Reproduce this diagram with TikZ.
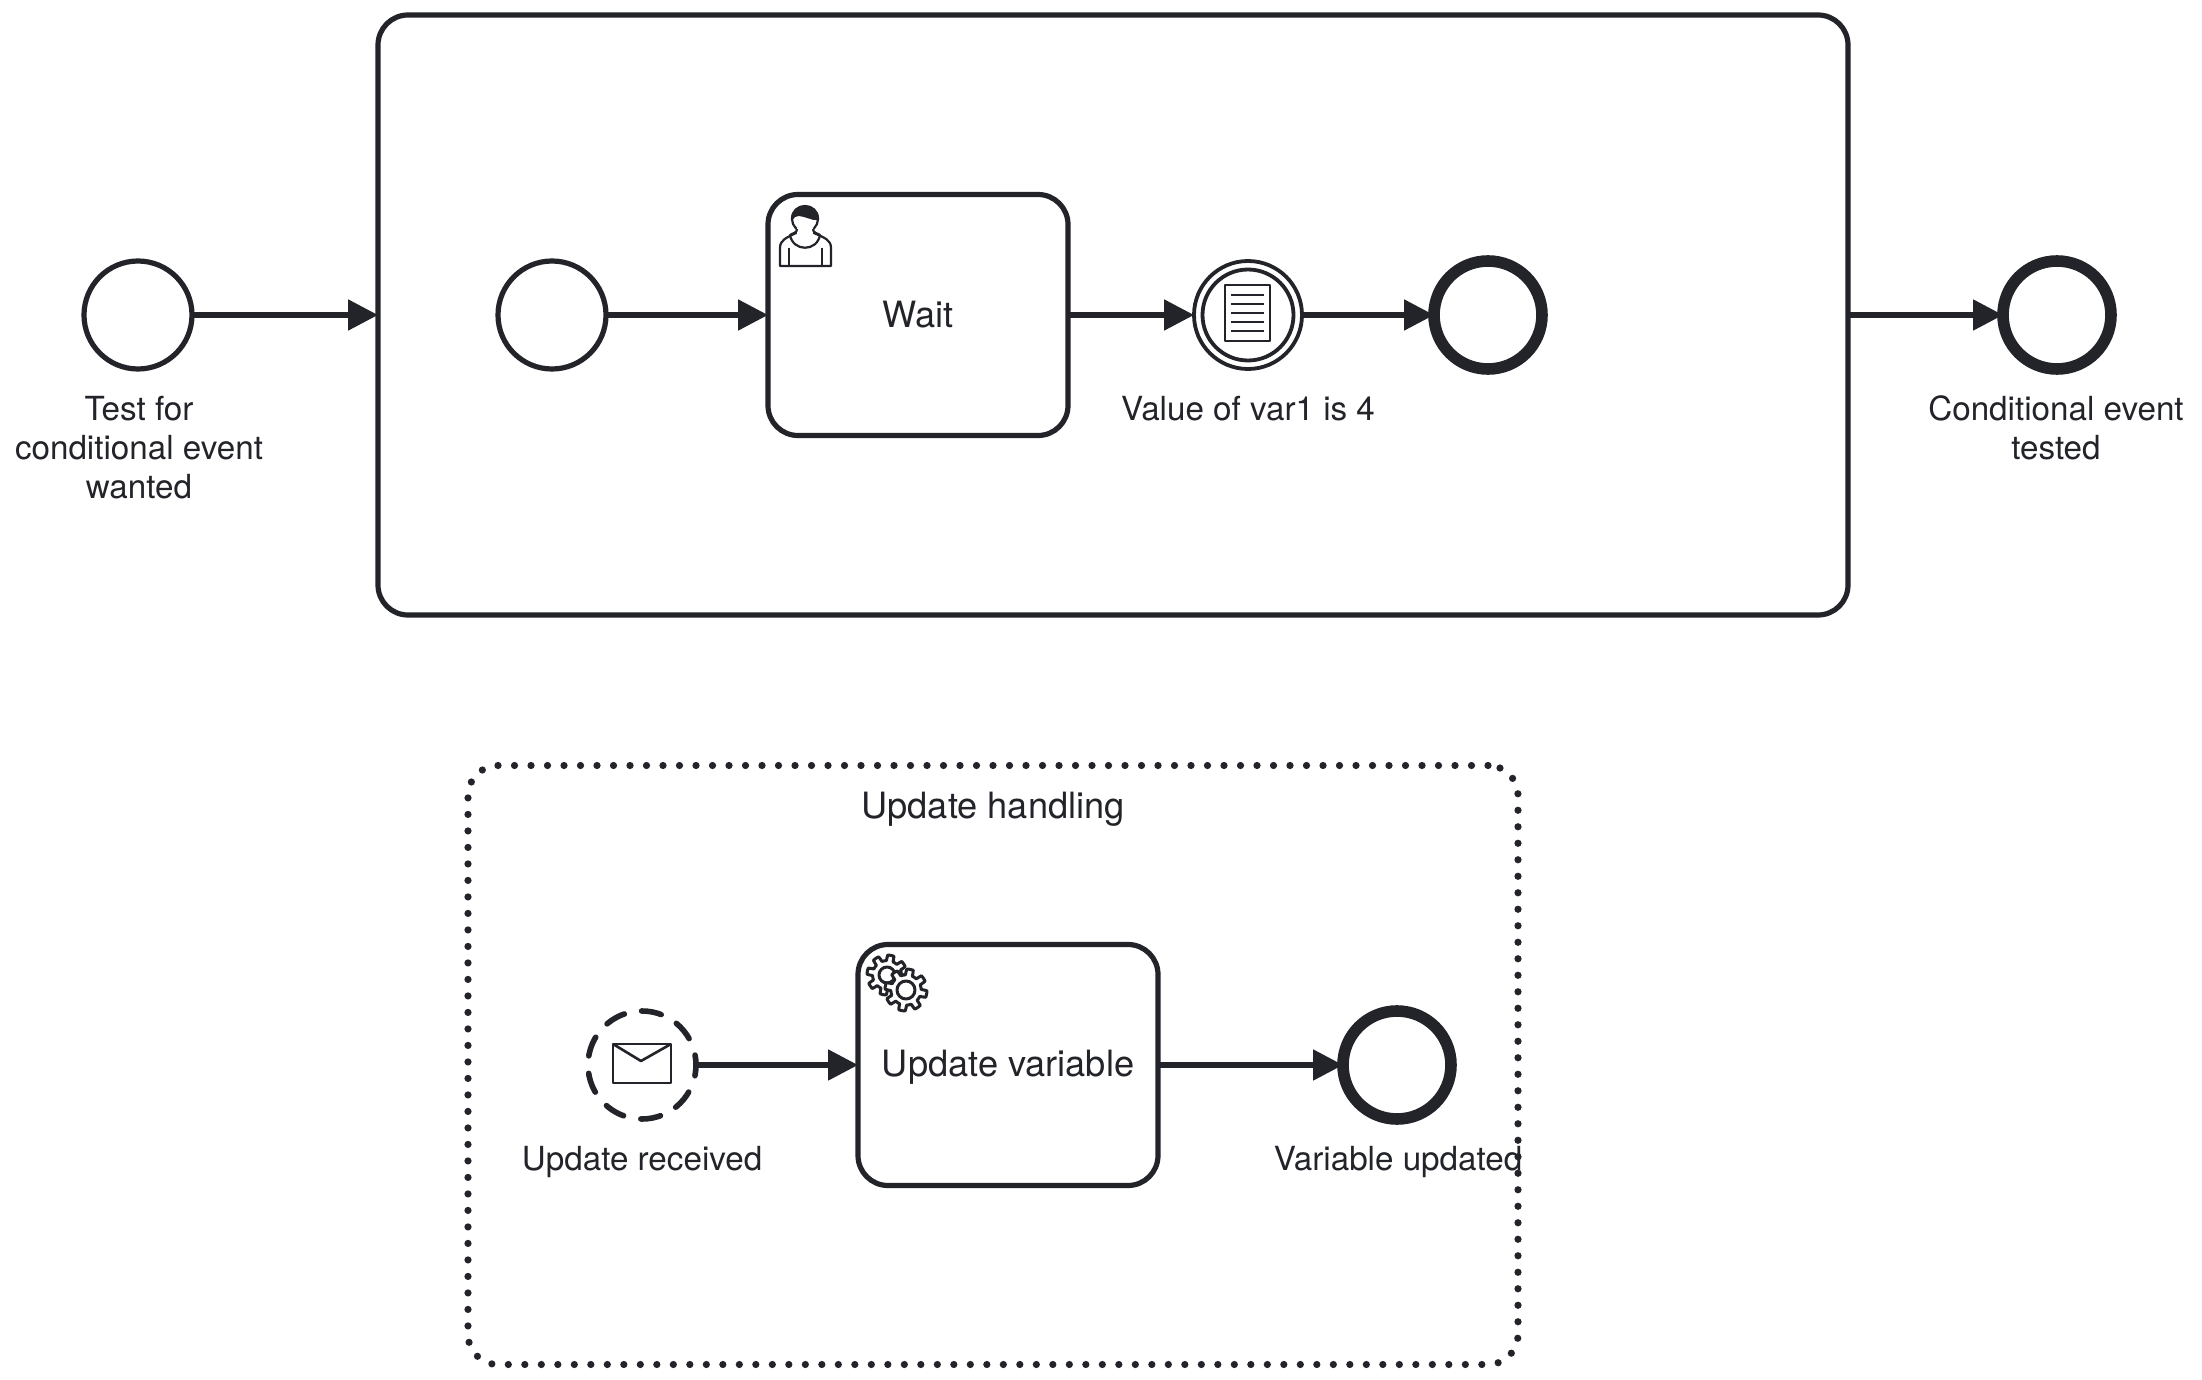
\documentclass[tikz,border=0pt]{standalone}
\usepackage{fontspec}
\setmainfont{TeX Gyre Heros}
\usetikzlibrary{arrows.meta}
\definecolor{ink}{HTML}{22242A}
\tikzset{
  every node/.style={outer sep=0pt},
  ink line/.style={draw=ink,line width=2.6pt},
  flow/.style={draw=ink,line width=2.6pt,-{Triangle[length=15pt,width=15pt]}},
  startev/.style={circle,ink line,fill=white,minimum size=54pt,inner sep=0pt},
  endev/.style={circle,draw=ink,line width=5.8pt,fill=white,minimum size=54pt,inner sep=0pt},
  taskbox/.style={rectangle,rounded corners=15pt,ink line,fill=white,minimum width=150pt,minimum height=120.5pt,inner sep=0pt},
  lab/.style={align=center,inner sep=0pt,font=\lbl,text=ink},
  biglab/.style={align=center,inner sep=0pt,font=\biglbl,text=ink},
  icon/.style={draw=ink,line width=1.1pt,line join=round},
  gear/.pic={
    \draw[icon,fill=white,line width=1.5pt] plot[variable=\a,domain=0:360,samples=161]
      ({\a}:{#1*(0.72+0.28*max(0,min(1,0.5+1.6*sin(8*\a))))}) -- cycle;
  }
}
\newcommand{\lbl}{\fontsize{16.6}{19.5}\selectfont}
\newcommand{\biglbl}{\fontsize{18.1}{21}\selectfont}
\begin{document}
\begin{tikzpicture}[x=0.5pt,y=-0.5pt]
\useasboundingbox[fill=white] (0,0) rectangle (2202,1380);
% sub-process frames
\node[rectangle,rounded corners=15pt,ink line,minimum width=735pt,minimum height=300pt,inner sep=0pt] (sub) at (1113,315) {};
\node[rectangle,rounded corners=15pt,draw=ink,line width=3.6pt,line cap=round,dash pattern=on 0pt off 8.25pt,minimum width=525pt,minimum height=299.5pt,inner sep=0pt] (evsub) at (993,1065) {};
% top row
\node[startev] (s0) at (138,315) {};
\node[startev] (s1) at (552,315) {};
\node[taskbox] (wait) at (918,315) {};
\node[biglab] (waitlabel) at (918,315) {Wait};
\node[circle,draw=ink,line width=1.9pt,fill=white,minimum size=54pt,inner sep=0pt] (cond) at (1248,315) {};
\node[circle,draw=ink,line width=1.9pt,minimum size=45.5pt,inner sep=0pt] (condin) at (1248,315) {};
\node[endev] (e1) at (1488,315) {};
\node[endev] (e0) at (2057,315) {};
% bottom row
\node[circle,draw=ink,line width=2.8pt,line cap=round,dash pattern=on 10pt off 8.8pt,dash phase=5pt,fill=white,minimum size=54pt,inner sep=0pt] (msg) at (642,1065) {};
\node[taskbox] (upd) at (1008,1065) {};
\node[biglab] (updlabel) at (1008,1067) {Update variable};
\node[endev] (e2) at (1397,1065) {};
% connectors
\draw[flow] (s0) -- (sub.west |- s0);
\draw[flow] (s1) -- (wait);
\draw[flow] (wait) -- (cond);
\draw[flow] (cond) -- (e1);
\draw[flow] (sub.east |- e0) -- (e0);
\draw[flow] (msg) -- (upd);
\draw[flow] (upd) -- (e2);
% labels
\node[lab] (l0) at (139,448) {Test for\\conditional event\\wanted};
\node[lab] (l1) at (1248,409) {Value of var1 is 4};
\node[lab] (l2) at (2056,428) {Conditional event\\tested};
\node[biglab] (l3) at (993,809) {Update handling};
\node[lab] (l4) at (642,1162) {Update received};
\node[lab] (l5) at (1398,1162) {Variable updated};
% document marker
\draw[icon,line width=1.2pt] (1225,285) rectangle (1270,341);
\foreach \yy in {295,304,313,322,331} \draw[icon] (1231,\yy) -- (1264,\yy);
% envelope marker
\draw[icon,line width=1.3pt] (613,1044) rectangle (671,1083);
\draw[icon,line width=1.3pt] (613,1044) -- (641,1061) -- (671,1044);
% user marker
\draw[icon,fill=white] (780,266) -- (780,248) .. controls (780,240) and (786,238) .. (796,233) -- (814,233) .. controls (825,238) and (831,240) .. (831,248) -- (831,266) -- cycle;
\draw[icon,fill=white] (805,219) ellipse (13 and 13);
\draw[icon,fill=white,draw=none] (797,228) rectangle (813,236);
\draw[icon] (797,229) .. controls (797,233) and (793,233) .. (790,235) .. controls (793,252) and (817,252) .. (820,235) .. controls (817,233) and (813,233) .. (813,229);
\draw[icon,fill=ink] (792,219) .. controls (792,202) and (818,202) .. (818,219) .. controls (812,220) and (806,215) .. (798,215) .. controls (795,215) and (793,217) .. (792,219) -- cycle;
\draw[icon,line width=1.1pt] (789,248) -- (789,266) (822,248) -- (822,266);
% gears marker
\pic at (887,975) {gear=20};
\draw[icon,line width=1.5pt] (887,975) circle (8);
\pic at (906,990) {gear=21};
\draw[icon,line width=1.5pt] (906,990) circle (9);
\end{tikzpicture}
\end{document}
